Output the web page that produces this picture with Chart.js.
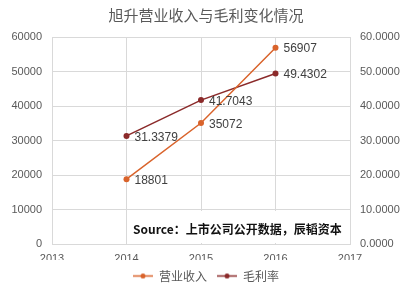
<!DOCTYPE html>
<html>
<head>
<meta charset="utf-8">
<script src="https://cdn.jsdelivr.net/npm/chart.js@4"></script>
<style>
html,body{margin:0;padding:0;background:#fff;}
#wrap{width:412px;height:293px;}
</style>
</head>
<body>
<div id="wrap"><canvas id="c" width="412" height="293"></canvas></div>
<script>
const titleText = '旭升营业收入与毛利变化情况';
const years = [2014, 2015, 2016];
const revenue = [18801, 35072, 56907];
const margin = [31.3379, 41.7043, 49.4302];
const seriesNames = ['营业收入', '毛利率'];
const sourceText = 'Source：上市公司公开数据，辰韬资本';

const orange = '#D9632B';
const darkRed = '#8B2A2A';
const gridColor = '#D9D9D9';
const textGray = '#595959';

function legendMarker(color) {
  const cv = document.createElement('canvas');
  cv.width = 20; cv.height = 7;
  const g = cv.getContext('2d');
  g.strokeStyle = color; g.lineWidth = 1.5;
  g.beginPath(); g.moveTo(0, 3.5); g.lineTo(20, 3.5); g.stroke();
  g.fillStyle = color;
  g.beginPath(); g.arc(10, 3.5, 2.5, 0, Math.PI * 2); g.fill();
  return cv;
}

const valueLabels = {
  id: 'valueLabels',
  afterDatasetsDraw(chart) {
    const ctx = chart.ctx;
    ctx.save();
    ctx.font = '12px "Liberation Sans", Arial, sans-serif';
    ctx.fillStyle = '#404040';
    ctx.textAlign = 'left';
    ctx.textBaseline = 'middle';
    chart.data.datasets.forEach((ds, i) => {
      const meta = chart.getDatasetMeta(i);
      meta.data.forEach((pt, j) => {
        const v = ds.data[j].y;
        const txt = i === 1 ? v.toFixed(4) : String(v);
        ctx.fillText(txt, pt.x + 8, pt.y + 1.5);
      });
    });
    ctx.restore();
  }
};

const sourceNote = {
  id: 'sourceNote',
  beforeDatasetsDraw(chart) {
    const a = chart.chartArea;
    const ctx = chart.ctx;
    ctx.save();
    ctx.fillStyle = '#ffffff';
    ctx.fillRect(a.left + 77, a.bottom - 33, a.right - a.left - 78, 32);
    ctx.fillStyle = '#111111';
    ctx.font = 'bold 12px "Noto Sans CJK SC", sans-serif';
    ctx.textAlign = 'left';
    ctx.textBaseline = 'middle';
    ctx.fillText(sourceText, a.left + 81, a.bottom - 15);
    ctx.restore();
  }
};

new Chart(document.getElementById('c'), {
  type: 'line',
  data: {
    datasets: [
      {
        label: seriesNames[0],
        data: years.map((y, i) => ({x: y, y: revenue[i]})),
        borderColor: orange, backgroundColor: orange,
        borderWidth: 1.5, pointRadius: 3, pointBorderWidth: 0,
        yAxisID: 'y', tension: 0
      },
      {
        label: seriesNames[1],
        data: years.map((y, i) => ({x: y, y: margin[i]})),
        borderColor: darkRed, backgroundColor: darkRed,
        borderWidth: 1.5, pointRadius: 3, pointBorderWidth: 0,
        yAxisID: 'y1', tension: 0
      }
    ]
  },
  options: {
    responsive: false,
    animation: false,
    devicePixelRatio: 1,
    layout: {padding: {left: 0, right: 0, top: 0, bottom: 1}},
    plugins: {
      title: {
        display: true, text: titleText, color: textGray,
        font: {family: '"Noto Sans CJK SC", sans-serif', size: 15, weight: 'normal'},
        padding: {top: 6, bottom: 13}
      },
      legend: {
        position: 'bottom',
        labels: {
          color: textGray,
          font: {family: '"Noto Sans CJK SC", sans-serif', size: 12},
          usePointStyle: true, pointStyleWidth: 20, boxHeight: 12,
          padding: 10,
          generateLabels(chart) {
            return chart.data.datasets.map((ds, i) => ({
              text: ds.label, pointStyle: legendMarker(ds.borderColor),
              fillStyle: ds.borderColor, strokeStyle: ds.borderColor,
              lineWidth: 0, hidden: false, datasetIndex: i, fontColor: textGray
            }));
          }
        }
      },
      tooltip: {enabled: false}
    },
    scales: {
      x: {
        type: 'linear', min: 2013, max: 2017,
        ticks: {stepSize: 1, color: textGray, padding: 8,
          font: {family: '"Liberation Sans", Arial, sans-serif', size: 11},
          callback: v => String(v)},
        grid: {color: gridColor, drawTicks: false},
        border: {color: gridColor},
        afterFit(s) { s.height = 16; }
      },
      y: {
        position: 'left', min: 0, max: 60000,
        ticks: {stepSize: 10000, color: textGray, padding: 10,
          font: {family: '"Liberation Sans", Arial, sans-serif', size: 11},
          callback: v => String(v)},
        grid: {color: gridColor, drawTicks: false},
        border: {color: gridColor},
        afterFit(s) { s.width = 52; }
      },
      y1: {
        position: 'right', min: 0, max: 60,
        ticks: {stepSize: 10, color: textGray, padding: 10,
          font: {family: '"Liberation Sans", Arial, sans-serif', size: 11},
          callback: v => Number(v).toFixed(4)},
        grid: {display: false, drawTicks: false},
        border: {display: false},
        afterFit(s) { s.width = 62; }
      }
    }
  },
  plugins: [sourceNote, valueLabels]
});
</script>
</body>
</html>
